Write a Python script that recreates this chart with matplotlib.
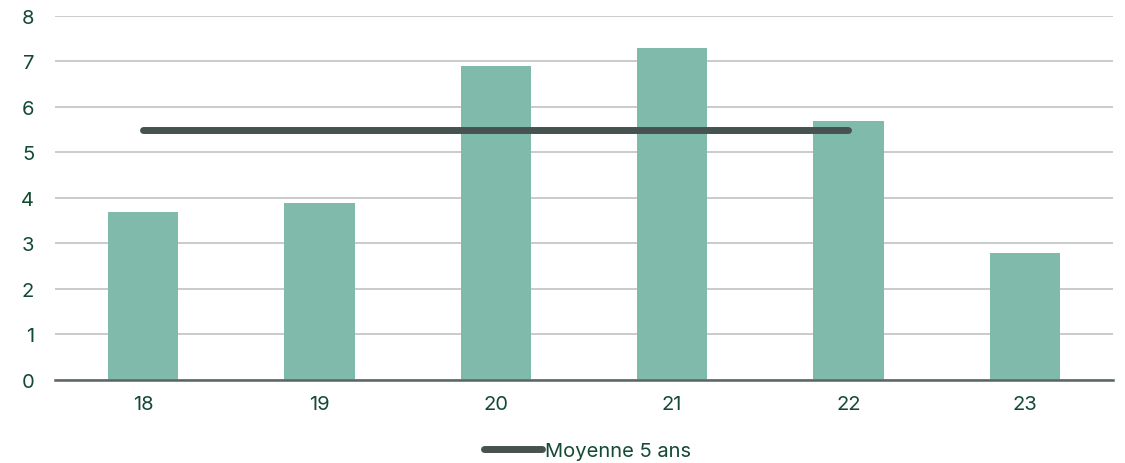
import numpy as np
import matplotlib.pyplot as plt

# données
years = ["18", "19", "20", "21", "22", "23"]
values = [3.7, 3.9, 6.9, 7.3, 5.7, 2.8]
avg_years = ["18", "22"]
avg_value = [5.5, 5.5]

txt_col = "#134a33"
bar_col = "#7fbaab"
line_col = "#46524f"

plt.rcParams['font.family'] = ['Inter', 'DejaVu Sans']

fig = plt.figure(figsize=(11.25, 4.64), dpi=100)
ax = fig.add_axes([0.0489, 0.1789, 0.9404, 0.7845])

x = np.arange(len(years))
ax.bar(x, values, width=0.4, color=bar_col, zorder=2)

xa = [years.index(y) for y in avg_years]
ax.plot(xa, avg_value, color=line_col, lw=5, solid_capstyle='round', zorder=3,
        label="Moyenne 5 ans")

ax.set_xlim(-0.5, 5.5)
ax.set_ylim(0, 8)
ax.set_yticks(range(0, 9))
ax.set_xticks(x)
ax.set_xticklabels(years)
ax.grid(axis='y', color="#c0c4c3", lw=1.2, zorder=0)
for s in ["top", "right", "left"]:
    ax.spines[s].set_visible(False)
ax.spines["bottom"].set_color("#5a6462")
ax.spines["bottom"].set_linewidth(1.8)
ax.spines["bottom"].set_zorder(4)
ax.tick_params(axis='both', length=0, labelsize=14.5, colors=txt_col)
ax.tick_params(axis='x', pad=11)
ax.tick_params(axis='y', pad=15)

leg = fig.legend(loc='center', bbox_to_anchor=(0.522, 0.026), frameon=False,
                 fontsize=14.5, handlelength=2.9, handletextpad=0.15)
for t in leg.get_texts():
    t.set_color(txt_col)

fig.savefig("out.png", dpi=100)
